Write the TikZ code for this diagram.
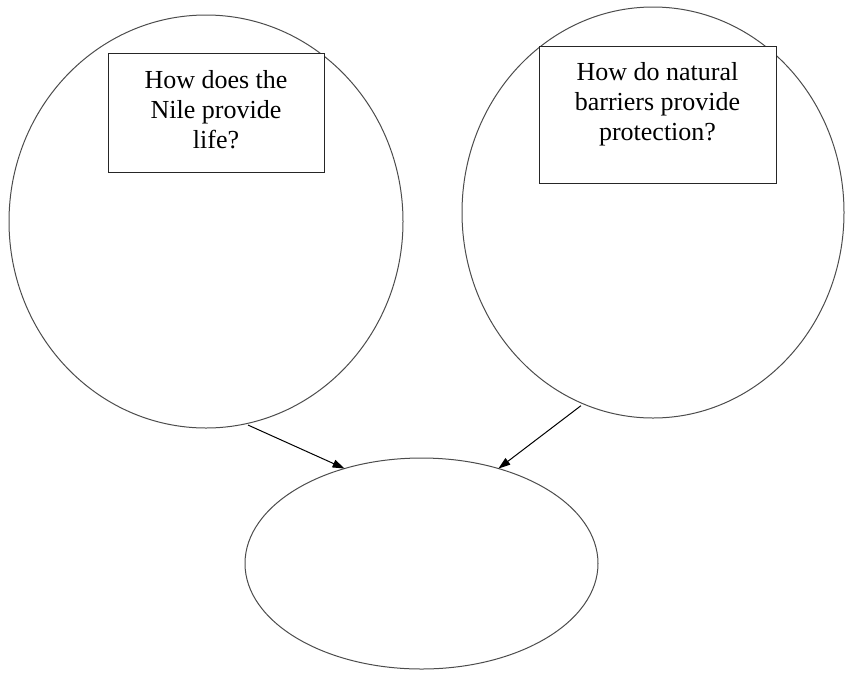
\documentclass[tikz,border=0pt]{standalone}
\usepackage{fontspec}
\setmainfont{Liberation Serif}
\usetikzlibrary{shapes.geometric,arrows.meta}
\begin{document}
\begin{tikzpicture}[x=1pt,y=-1pt,
    bubble/.style={draw=black!70,line width=1pt,ellipse,inner sep=0pt,outer sep=0pt},
    question/.style={draw=black!85,fill=white,line width=1pt,rectangle,inner sep=0pt,outer sep=0pt,font=\fontsize{26}{30}\selectfont}]
    \useasboundingbox (0,0) rectangle (845,673);

    \node[bubble, minimum width=394pt, minimum height=413pt] (nile) at (206,221.5) {};
    \node[bubble, minimum width=382pt, minimum height=411pt] (barriers) at (653,212.5) {};
    \node[bubble, minimum width=353pt, minimum height=211pt] (combined) at (421.5,563.5) {};

    \node[question] (nileQ) at (216,112.5) {\parbox[c][119pt][t]{216pt}{\centering\rule{0pt}{35pt}How does the\\ Nile provide\\ life?}};
    \node[question] (barriersQ) at (657.5,114.5) {\parbox[c][137pt][t]{237pt}{\centering\rule{0pt}{34pt}How do natural\\ barriers provide\\ protection?}};

    \begin{scope}[every path/.style={-{Triangle[length=12pt,width=8pt]},line width=1pt}]
       \draw[shorten <=3pt] (nile.-79.3) -- (combined.129.5);
       \draw[shorten <=3pt] (barriers.-110.6) -- (combined.51.2);
    \end{scope}
\end{tikzpicture}
\end{document}
